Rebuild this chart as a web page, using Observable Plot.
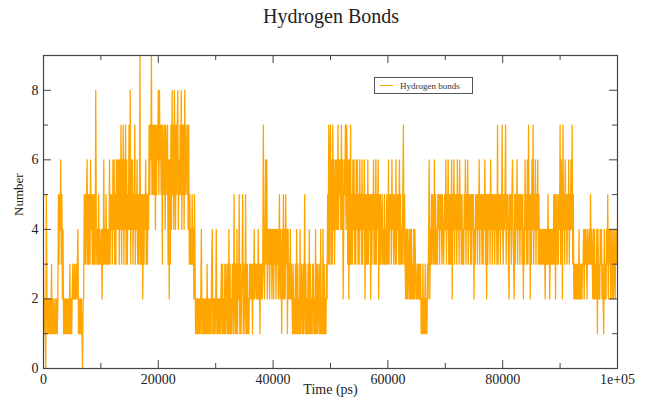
<!DOCTYPE html>
<html>
<head>
<meta charset="utf-8">
<script src="https://cdn.jsdelivr.net/npm/d3@7"></script>
<script src="https://cdn.jsdelivr.net/npm/@observablehq/plot@0.6"></script>
<style>
  html, body { margin: 0; padding: 0; background: #fff; }
  #wrap { position: relative; width: 658px; height: 401px; font-family: "Liberation Serif", "DejaVu Serif", serif; }
  #title { position: absolute; left: 0; top: 5px; width: 662px; text-align: center; font-size: 20px; color: #222; }
  #legend { position: absolute; left: 374px; top: 77px; width: 97px; height: 15px; border: 1px solid #555; background: #fff;
            display: flex; align-items: center; font-size: 9px; color: #333; }
  #legend .sw { display: inline-block; width: 13px; height: 0; border-top: 1px solid #FFA500; margin: 0 7px 0 5px; }
</style>
</head>
<body>
<div id="wrap">
  <div id="chart"></div>
  <div id="title"></div>
  <div id="legend"><span class="sw"></span><span id="legtext"></span></div>
</div>
<script>
// ---- data: hydrogen bond count, one value every 100 ps; one string per 10000 ps ----
const titleText = "Hydrogen Bonds";
const xLabel = "Time (ps)";
const yLabel = "Number";
const seriesName = "Hydrogen bonds";
const stepPs = 100;
const blocks = [
  "3121052121 2121312121 1212125354 6352412121 2121213121 2322322323 4121212102 2535356353 5364535353 3843435343",
  "3424363435 3434363545 3646353646 4636473647 3647363547 4836463547 3546353493 5352535463 5354757695 7575747576",
  "8586757376 5747657362 6374857486 4757846575 8475748576 5747353435 3425312121 2121241212 1212131212 1213412121",
  "2412121212 3131213132 1314131213 3152131413 2513123512 3152131213 2323132423 3232423132 3237324636 2434243424",
  "4243424342 3524314252 4253414232 4232131213 1413121413 2131251312 1314131213 3121413132 1314121413 1213253736",
  "7363746356 4647465647 4624657476 3626373536 4635364635 3645363546 2535363545 2535463536 3546253534 5343534353",
  "3635453645 3543635453 6353435735 3242423424 2423242432 2323232312 1312131213 2462435354 3635343545 3545354345",
  "4635463535 3625463545 3645364535 3435463546 3545353545 2435453546 3545353546 3525354536 4535453545 3735453547",
  "4354573545 3254535643 2535463545 3545352436 4536374525 3647354635 4635343434 3434243435 3424343435 3525435354",
  "7365274536 4535463546 4735232323 2324232323 3424343243 3435343242 4232414232 4342321423 2435243424 3242432434"
];
const xMajor = [0, 20000, 40000, 60000, 80000, 100000];
const xTickLabels = ["0", "20000", "40000", "60000", "80000", "1e+05"];
const xMinor = [10000, 30000, 50000, 70000, 90000];
const yMajor = [0, 2, 4, 6, 8];
const yMinor = [1, 3, 5, 7];

// ---- build table ----
const values = blocks.map(b => b.replace(/\s+/g, "")).join("").split("").map(Number);
const series = values.map((v, i) => ({t: i * stepPs, v}));

document.getElementById("title").textContent = titleText;
document.getElementById("legtext").textContent = seriesName;

const W = 658, H = 401, mL = 43, mR = 41, mT = 55, mB = 33;
const innerW = W - mL - mR, innerH = H - mT - mB;
const major = 8, minor = 5;
const axisColor = "#444";

const chart = Plot.plot({
  width: W, height: H,
  marginLeft: mL, marginRight: mR, marginTop: mT, marginBottom: mB,
  style: { fontFamily: '"Liberation Serif", serif', fontSize: "14px", color: "#222", background: "transparent" },
  x: { domain: [0, 100000], label: null },
  y: { domain: [0, 9], label: null },
  marks: [
    Plot.line(series, { x: "t", y: "v", stroke: "#FFA500", strokeWidth: 1.3, clip: true }),
    // inward ticks on all four sides
    Plot.tickY(yMajor, { y: d => d, insetRight: innerW - major, stroke: axisColor }),
    Plot.tickY(yMinor, { y: d => d, insetRight: innerW - minor, stroke: axisColor }),
    Plot.tickY(yMajor, { y: d => d, insetLeft: innerW - major, stroke: axisColor }),
    Plot.tickY(yMinor, { y: d => d, insetLeft: innerW - minor, stroke: axisColor }),
    Plot.tickX(xMajor, { x: d => d, insetTop: innerH - major, stroke: axisColor }),
    Plot.tickX(xMinor, { x: d => d, insetTop: innerH - minor, stroke: axisColor }),
    Plot.tickX(xMajor, { x: d => d, insetBottom: innerH - major, stroke: axisColor }),
    Plot.tickX(xMinor, { x: d => d, insetBottom: innerH - minor, stroke: axisColor }),
    Plot.axisX(xMajor, { anchor: "bottom", tickSize: 0, tickPadding: 6, label: null,
      tickFormat: d => xTickLabels[xMajor.indexOf(d)], fontSize: 14 }),
    Plot.axisY(yMajor, { anchor: "left", tickSize: 0, tickPadding: 5, label: null, fontSize: 14 }),
    Plot.text([xLabel], { frameAnchor: "bottom", dy: 25, fontSize: 14 }),
    Plot.text([yLabel], { frameAnchor: "left", rotate: -90, dx: -25, dy: 4, fontSize: 13 }),
    Plot.frame({ stroke: axisColor, strokeWidth: 1.2 })
  ]
});
document.getElementById("chart").appendChild(chart);
</script>
</body>
</html>
